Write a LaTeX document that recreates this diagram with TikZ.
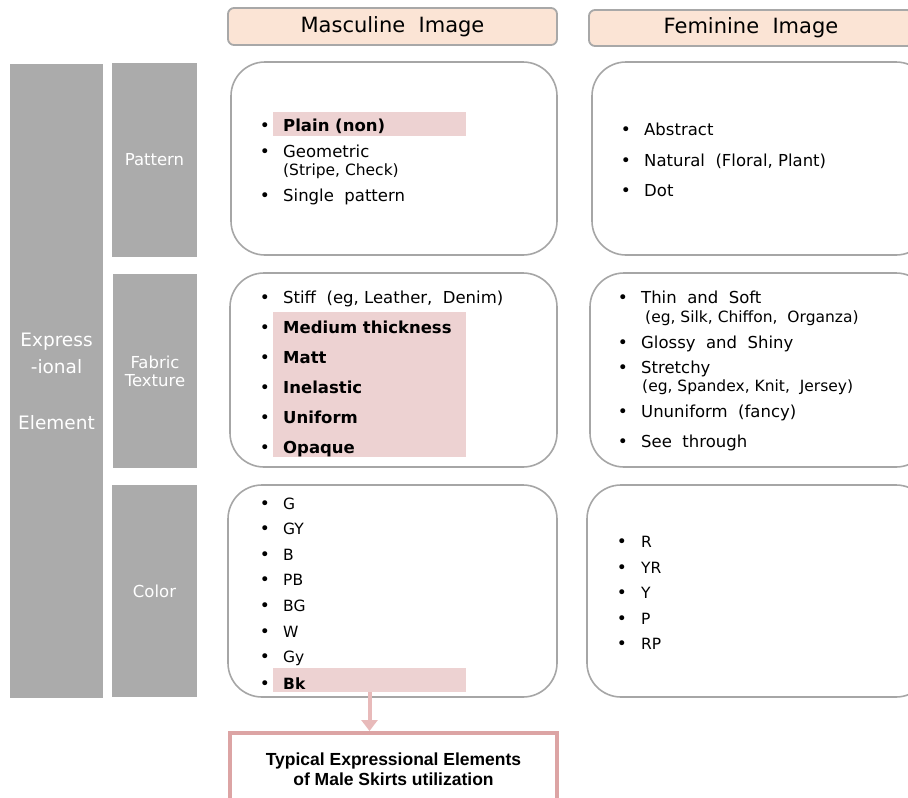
\documentclass[tikz,border=0pt]{standalone}
\usepackage{fontspec}
\setmainfont{DejaVu Sans}
\newfontfamily\arialf{Liberation Sans}
\usetikzlibrary{arrows.meta}
\definecolor{bargray}{HTML}{ABABAB}
\definecolor{hdrfill}{HTML}{FBE4D5}
\definecolor{hdrdraw}{HTML}{A8A8A8}
\definecolor{boxdraw}{HTML}{A6A6A6}
\definecolor{hlfill}{HTML}{EDD2D2}
\definecolor{arrowcol}{HTML}{E8BABA}
\definecolor{botdraw}{HTML}{DCA4A4}
\newcommand{\bitem}[6]{%
  \node[bulsty,anchor=base] (#1b) at (#2,#4) {•};
  \node[#5,anchor=base west] (#1) at (#3,#4) {#6};}
\newcommand{\ptext}[5]{%
  \node[#4,anchor=base west] (#1) at (#2,#3) {#5};}
\begin{document}
\begin{tikzpicture}[x=1pt,y=-1pt,
  bar/.style={fill=bargray,draw=none,inner sep=0pt,text=white,align=center,
    font=\fontsize{16.5}{18}\selectfont},
  hdr/.style={fill=hdrfill,draw=hdrdraw,line width=1.8pt,rounded corners=6pt,
    inner sep=0pt,font=\fontsize{21}{24}\selectfont},
  rbox/.style={draw=boxdraw,line width=1.6pt,rounded corners=34pt,fill=white,inner sep=0pt},
  hl/.style={fill=hlfill,draw=none,inner sep=0pt},
  bulsty/.style={inner sep=0pt,font=\fontsize{17}{19}\selectfont},
  itm/.style={inner sep=0pt,font=\fontsize{16.5}{19}\selectfont},
  itmb/.style={inner sep=0pt,font=\fontsize{16.5}{19}\selectfont\bfseries},
  itmp/.style={inner sep=0pt,font=\fontsize{15.5}{18}\selectfont},
  itmc/.style={inner sep=0pt,font=\fontsize{15.5}{18}\selectfont},
  itmcb/.style={inner sep=0pt,font=\fontsize{15.5}{18}\selectfont\bfseries},
  botbox/.style={draw=botdraw,line width=4pt,fill=white,inner sep=0pt,align=center,
    font=\arialf\fontsize{17.5}{19.5}\selectfont\bfseries},
  arr/.style={draw=arrowcol,line width=4pt,-{Triangle[width=16pt,length=11pt]}}
]
\useasboundingbox (0,0) rectangle (908,798);
\clip (0,0) rectangle (908,798);
% headers
\node[hdr,minimum width=329pt,minimum height=37pt] (hm) at (392.5,26.5) {Masculine\ \ Image};
\node[hdr,minimum width=324pt,minimum height=36pt] (hf) at (751,28) {Feminine\ \ Image};
% gray bars
\node[bar,minimum width=93pt,minimum height=634pt,font=\fontsize{18.5}{22}\selectfont] (expr) at (56.5,381)
  {Express\\[5pt]-ional\\[34pt]Element};
\node[bar,minimum width=85pt,minimum height=194pt] (pat) at (154.5,160) {Pattern};
\node[bar,minimum width=84pt,minimum height=194pt] (fab) at (155,371) {Fabric\\Texture};
\node[bar,minimum width=85pt,minimum height=212pt] (col) at (154.5,591) {Color};
% rounded boxes
\node[rbox,minimum width=326pt,minimum height=193pt] (mp) at (394,158.5) {};
\node[rbox,minimum width=338pt,minimum height=193pt] (fp) at (761,158.5) {};
\node[rbox,minimum width=327pt,minimum height=194pt] (mf) at (393.5,370) {};
\node[rbox,minimum width=340pt,minimum height=194pt] (ff) at (760,370) {};
\node[rbox,minimum width=329pt,minimum height=212pt] (mc) at (392.5,591) {};
\node[rbox,minimum width=343pt,minimum height=212pt] (fc) at (758.5,591) {};
% highlights
\node[hl,minimum width=193pt,minimum height=24pt] (hlp) at (369.5,124) {};
\node[hl,minimum width=193pt,minimum height=145pt] (hlf) at (369.5,384.5) {};
\node[hl,minimum width=193pt,minimum height=24pt] (hlb) at (369.5,680) {};
% masculine pattern
\bitem{m1}{265}{283}{131}{itmb}{Plain (non)}
\bitem{m2}{265}{283}{157}{itm}{Geometric}
\ptext{m2p}{283}{175}{itmp}{(Stripe,\ Check)}
\bitem{m3}{265}{283}{201}{itm}{Single\ \ pattern}
% masculine fabric
\bitem{mf1}{265}{283}{303}{itm}{Stiff\ \ (eg,\ Leather,\ \ Denim)}
\bitem{mf2}{265}{283}{333}{itmb}{Medium thickness}
\bitem{mf3}{265}{283}{363}{itmb}{Matt}
\bitem{mf4}{265}{283}{393}{itmb}{Inelastic}
\bitem{mf5}{265}{283}{423}{itmb}{Uniform}
\bitem{mf6}{265}{283}{453}{itmb}{Opaque}
% masculine color
\bitem{mc1}{265}{283}{509}{itmc}{G}
\bitem{mc2}{265}{283}{534}{itmc}{GY}
\bitem{mc3}{265}{283}{560}{itmc}{B}
\bitem{mc4}{265}{283}{585}{itmc}{PB}
\bitem{mc5}{265}{283}{611}{itmc}{BG}
\bitem{mc6}{265}{283}{637}{itmc}{W}
\bitem{mc7}{265}{283}{662}{itmc}{Gy}
\bitem{mc8}{265}{283}{689}{itmcb}{Bk}
% feminine pattern
\bitem{f1}{626}{644}{135}{itm}{Abstract}
\bitem{f2}{626}{644}{166}{itm}{Natural\ \ (Floral,\ Plant)}
\bitem{f3}{626}{644}{196}{itm}{Dot}
% feminine fabric
\bitem{ff1}{623}{641}{303}{itm}{Thin\ \ and\ \ Soft}
\ptext{ff1p}{645}{322}{itmp}{(eg,\ Silk,\ Chiffon,\ \ Organza)}
\bitem{ff2}{623}{641}{348}{itm}{Glossy\ \ and\ \ Shiny}
\bitem{ff3}{623}{641}{373}{itm}{Stretchy}
\ptext{ff3p}{642}{391}{itmp}{(eg,\ Spandex,\ Knit,\ \ Jersey)}
\bitem{ff4}{623}{641}{417}{itm}{Ununiform\ \ (fancy)}
\bitem{ff5}{623}{641}{447}{itm}{See\ \ through}
% feminine color
\bitem{fc1}{622}{641}{547}{itmc}{R}
\bitem{fc2}{622}{641}{573}{itmc}{YR}
\bitem{fc3}{622}{641}{598}{itmc}{Y}
\bitem{fc4}{622}{641}{624}{itmc}{P}
\bitem{fc5}{622}{641}{649}{itmc}{RP}
% bottom box and arrow
\node[botbox,minimum width=327pt,minimum height=72pt] (bot) at (393.5,769)
  {Typical Expressional Elements\\of Male Skirts utilization};
\draw[arr] (hlb.south) -- (hlb.south |- bot.north);
\end{tikzpicture}
\end{document}
